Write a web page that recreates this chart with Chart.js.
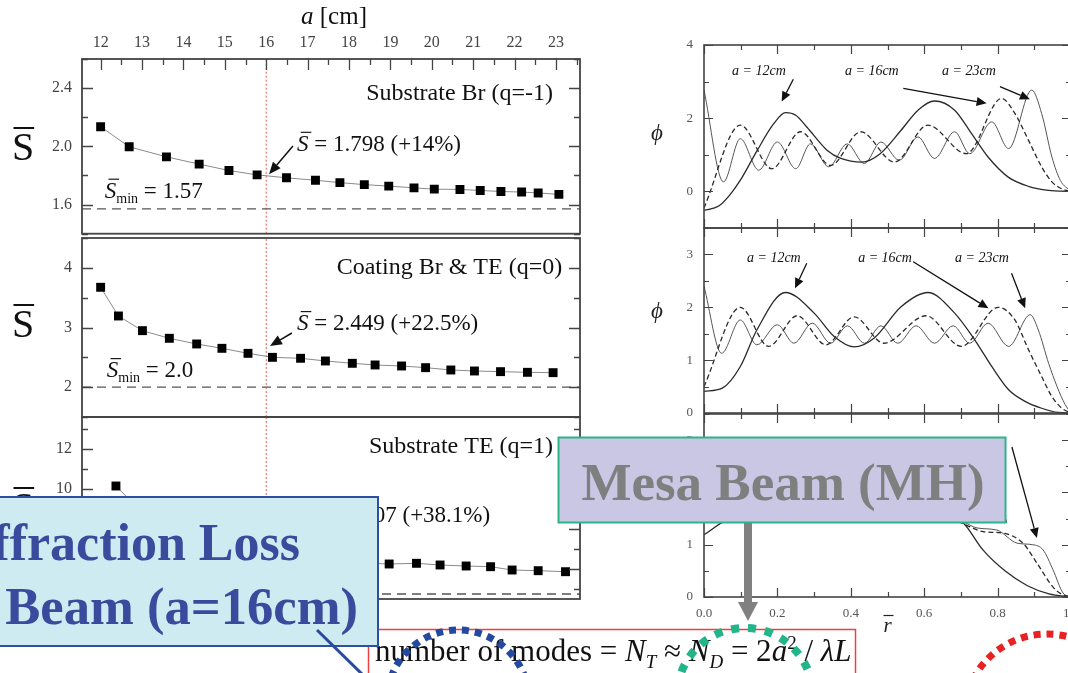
<!DOCTYPE html>
<html>
<head>
<meta charset="utf-8">
<title>Mesa beam: mean S and profiles</title>
<script src="https://cdn.jsdelivr.net/npm/chart.js@4.4.1/dist/chart.umd.min.js"></script>
<style>
  html, body { margin: 0; padding: 0; background: #fff; width: 1068px; height: 673px; overflow: hidden; position: relative; }
  canvas { position: absolute; }
  #overlay { position: absolute; left: 0; top: 0; }
</style>
</head>
<body>
<canvas id="p1"></canvas>
<canvas id="p2"></canvas>
<canvas id="p3"></canvas>
<canvas id="r1"></canvas>
<canvas id="r2"></canvas>
<canvas id="r3"></canvas>

<svg id="overlay" width="1068" height="673" viewBox="0 0 1068 673">
  <rect x="368.5" y="629.5" width="487" height="70" fill="#fff" stroke="#ee4040" stroke-width="1.5"/>
  <text x="375" y="661" font-family="Liberation Serif" font-size="31" fill="#111">number of modes = <tspan font-style="italic">N</tspan><tspan font-style="italic" font-size="19" dy="7">T</tspan><tspan dy="-7"> ≈ </tspan><tspan font-style="italic">N</tspan><tspan font-style="italic" font-size="19" dy="7">D</tspan><tspan dy="-7"> = 2</tspan><tspan font-style="italic">a</tspan><tspan font-size="19" dy="-12">2</tspan><tspan dy="12"> / </tspan><tspan font-style="italic">λL</tspan></text>

  <rect x="-10" y="497" width="388" height="149" fill="#cdebf0" stroke="#2f4fa0" stroke-width="2"/>
  <text x="300" y="560" text-anchor="end" font-family="Liberation Serif" font-weight="bold" font-size="52" fill="#3a4a9c">Diffraction Loss</text>
  <text x="358" y="624" text-anchor="end" font-family="Liberation Serif" font-weight="bold" font-size="52.6" fill="#3a4a9c">Mesa Beam (a=16cm)</text>
  <line x1="317" y1="630" x2="364" y2="676" stroke="#2a4a9e" stroke-width="3"/>

  <circle cx="458" cy="701" r="71" fill="none" stroke="#2349a0" stroke-width="7" stroke-dasharray="7 6"/>
  <circle cx="745" cy="696" r="68" fill="none" stroke="#22b58a" stroke-width="8" stroke-dasharray="8 9"/>
  <circle cx="1047" cy="717" r="83" fill="none" stroke="#e82222" stroke-width="7" stroke-dasharray="7 6"/>

  <rect x="558.5" y="437.5" width="447" height="85" fill="#c9c7e3" stroke="#2cb48b" stroke-width="2"/>
  <text x="783" y="500" text-anchor="middle" font-family="Liberation Serif" font-weight="bold" font-size="53" fill="#7f7f7f">Mesa Beam (MH)</text>
  <rect x="744" y="523" width="8" height="80" fill="#808080"/>
  <polygon points="738,602 758,602 748,621" fill="#808080"/>
</svg>

<script>
// left column: mean S-bar vs mirror radius a [cm]
const aBr   = [12.0, 12.69, 13.59, 14.38, 15.10, 15.78, 16.49, 17.19, 17.78, 18.37, 18.96, 19.57, 20.06, 20.68, 21.17, 21.67, 22.17, 22.57, 23.07];
const sBr   = [2.135, 1.997, 1.928, 1.878, 1.834, 1.804, 1.784, 1.767, 1.751, 1.737, 1.727, 1.715, 1.706, 1.704, 1.697, 1.690, 1.686, 1.680, 1.670];
const sMinBr = 1.57;

const aCoat = [12.0, 12.43, 13.01, 13.66, 14.32, 14.93, 15.56, 16.15, 16.83, 17.43, 18.08, 18.63, 19.27, 19.85, 20.46, 21.03, 21.66, 22.31, 22.93];
const sCoat = [3.674, 3.193, 2.947, 2.819, 2.724, 2.651, 2.567, 2.500, 2.484, 2.439, 2.400, 2.372, 2.355, 2.327, 2.288, 2.271, 2.260, 2.249, 2.243];
const sMinCoat = 2.0;

const aTE = [12.37, 12.97, 13.57, 14.17, 14.77, 15.37, 15.97, 16.57, 17.17, 17.76, 18.37, 18.97, 19.63, 20.20, 20.83, 21.42, 21.94, 22.57, 23.23];
const sTE = [10.15, 8.9, 8.0, 7.4, 7.0, 6.75, 6.55, 6.5, 6.45, 6.38, 6.3, 6.25, 6.285, 6.2, 6.15, 6.115, 5.95, 5.915, 5.865];
const sMinTE = 4.75;

const aChosen = 16;

// right column: phi(r) for a = 12, 16, 23 cm
const rTop12   = [0, 0.04, 0.07, 0.1, 0.145, 0.19, 0.222, 0.25, 0.28, 0.336, 0.373, 0.43, 0.48, 0.537, 0.583, 0.628, 0.683, 0.729, 0.774, 0.829, 0.884, 0.939, 1];
const phiTop12 = [-0.52, -0.4, -0.1, 0.32, 1.12, 1.85, 2.15, 2.08, 1.76, 1.12, 0.9, 0.8, 1.03, 1.67, 2.22, 2.47, 2.22, 1.58, 0.94, 0.39, 0.14, 0.03, 0];
const rTop16   = [0, 0.099, 0.185, 0.263, 0.345, 0.427, 0.519, 0.61, 0.715, 0.811, 0.847, 0.884, 0.92, 0.948, 0.975, 1];
const phiTop16 = [-0.45, 1.81, 0.62, 1.63, 0.71, 1.63, 0.8, 1.81, 1.03, 2.54, 2.13, 1.4, 0.67, 0.26, 0.07, 0];
const rTop23   = [0, 0.053, 0.099, 0.149, 0.2, 0.25, 0.29, 0.34, 0.39, 0.437, 0.482, 0.532, 0.583, 0.628, 0.683, 0.724, 0.784, 0.83, 0.893, 0.92, 0.948, 0.971, 1];
const phiTop23 = [2.77, 0.26, 1.44, 0.58, 1.35, 0.62, 1.3, 0.67, 1.3, 0.76, 1.35, 0.85, 1.49, 0.9, 1.63, 1.03, 1.9, 1.17, 2.77, 2.13, 0.94, 0.3, 0];

const rMid12   = [0, 0.05, 0.099, 0.144, 0.222, 0.3, 0.354, 0.409, 0.464, 0.537, 0.61, 0.683, 0.738, 0.784, 0.83, 0.875, 0.92, 0.966, 1];
const phiMid12 = [0.41, 0.47, 0.88, 1.57, 2.28, 1.89, 1.45, 1.25, 1.42, 2.01, 2.28, 1.89, 1.38, 0.88, 0.44, 0.22, 0.09, 0.01, 0];
const rMid16   = [0, 0.099, 0.176, 0.254, 0.332, 0.409, 0.49, 0.605, 0.701, 0.802, 0.847, 0.884, 0.92, 0.948, 0.975, 1];
const phiMid16 = [0.5, 2.0, 1.26, 1.84, 1.29, 1.82, 1.32, 1.84, 1.26, 2.0, 1.76, 1.2, 0.69, 0.31, 0.09, 0];
const rMid23   = [0, 0.048, 0.099, 0.144, 0.2, 0.245, 0.295, 0.345, 0.391, 0.437, 0.482, 0.528, 0.578, 0.628, 0.679, 0.724, 0.774, 0.83, 0.889, 0.911, 0.939, 0.962, 0.984, 1];
const phiMid23 = [2.4, 1.13, 1.76, 1.29, 1.67, 1.32, 1.7, 1.32, 1.65, 1.32, 1.65, 1.32, 1.65, 1.32, 1.65, 1.32, 1.7, 1.26, 1.86, 1.57, 0.94, 0.5, 0.16, 0];

const rBot12   = [0, 0.063, 0.2, 0.4, 0.55, 0.65, 0.706, 0.76, 0.82, 0.88, 0.94, 1];
const phiBot12 = [1.19, 1.48, 1.75, 1.8, 1.75, 1.6, 1.42, 0.9, 0.5, 0.22, 0.06, 0];
const rBot16   = [0, 0.15, 0.3, 0.45, 0.6, 0.69, 0.725, 0.76, 0.815, 0.869, 0.907, 0.951, 0.978, 1];
const phiBot16 = [1.65, 1.55, 1.6, 1.55, 1.6, 1.45, 1.34, 1.25, 1.22, 1.03, 0.65, 0.19, 0.04, 0];
const rBot23   = [0, 0.05, 0.1, 0.2, 0.3, 0.4, 0.5, 0.6, 0.7, 0.744, 0.798, 0.853, 0.896, 0.924, 0.951, 0.978, 1];
const phiBot23 = [1.9, 1.45, 1.65, 1.5, 1.6, 1.5, 1.6, 1.5, 1.45, 1.32, 1.28, 1.03, 1.0, 0.9, 0.52, 0.08, 0];

const SERIF = '"Liberation Serif", "Times New Roman", serif';
const LEFT_X = [11.55, 23.58];

function pts(xs, ys) { return xs.map((x, i) => ({ x: x, y: ys[i] })); }
function stepValues(min, max, step) {
  const out = [];
  for (let k = Math.ceil(min / step - 1e-6); k * step <= max + 1e-6; k++) out.push(Math.round(k * step * 1e6) / 1e6);
  return out;
}
function isMult(v, step) { const q = v / step; return Math.abs(q - Math.round(q)) < 1e-6; }

// frame with inward ticks on every side
function frameTicks(cfg) {
  return {
    id: 'frameTicks',
    afterDatasetsDraw(chart) {
      const ctx = chart.ctx, a = chart.chartArea;
      const xs = chart.scales.x, ys = chart.scales.y;
      ctx.save();
      ctx.strokeStyle = cfg.color;
      ctx.lineWidth = cfg.tickWidth;
      ctx.beginPath();
      stepValues(ys.min, ys.max, cfg.yMinor).forEach(v => {
        const p = Math.round(ys.getPixelForValue(v)) + 0.5;
        const len = isMult(v, cfg.yMajor) ? cfg.majorLen : cfg.minorLen;
        ctx.moveTo(a.left, p); ctx.lineTo(a.left + len, p);
        ctx.moveTo(a.right, p); ctx.lineTo(a.right - len, p);
      });
      if (cfg.xMinor) {
        stepValues(xs.min, xs.max, cfg.xMinor).forEach(v => {
          const p = Math.round(xs.getPixelForValue(v)) + 0.5;
          const len = isMult(v, cfg.xMajor) ? cfg.majorLen : cfg.minorLen;
          if (cfg.xTop) { ctx.moveTo(p, a.top); ctx.lineTo(p, a.top + len); }
          if (cfg.xBottom) { ctx.moveTo(p, a.bottom); ctx.lineTo(p, a.bottom - len); }
        });
      }
      ctx.stroke();
      ctx.lineWidth = cfg.frameWidth;
      ctx.strokeRect(a.left, a.top, a.right - a.left, a.bottom - a.top);
      ctx.restore();
    }
  };
}

function txt(ctx, s, x, y, font, align, color) {
  ctx.font = font; ctx.textAlign = align || 'left'; ctx.textBaseline = 'alphabetic';
  ctx.fillStyle = color || '#111'; ctx.fillText(s, x, y);
}

function arrow(ctx, x1, y1, x2, y2, hl, hw, lw) {
  const ang = Math.atan2(y2 - y1, x2 - x1);
  const bx = x2 - hl * Math.cos(ang), by = y2 - hl * Math.sin(ang);
  ctx.strokeStyle = '#111'; ctx.fillStyle = '#111'; ctx.lineWidth = lw;
  ctx.beginPath(); ctx.moveTo(x1, y1); ctx.lineTo(bx, by); ctx.stroke();
  ctx.beginPath(); ctx.moveTo(x2, y2);
  ctx.lineTo(bx + hw * Math.sin(ang), by - hw * Math.cos(ang));
  ctx.lineTo(bx - hw * Math.sin(ang), by + hw * Math.cos(ang));
  ctx.closePath(); ctx.fill();
}

// S with an overline, optional subscript, then the rest of the text
function sBar(ctx, x, y, size, sub, rest, align, italic) {
  const sFont = (italic ? 'italic ' : '') + size + 'px ' + SERIF;
  const rFont = size + 'px ' + SERIF;
  const bFont = Math.round(size * 0.62) + 'px ' + SERIF;
  ctx.font = sFont; const sw = ctx.measureText('S').width;
  ctx.font = bFont; const bw = sub ? ctx.measureText(sub).width : 0;
  ctx.font = rFont; const rw = rest ? ctx.measureText(rest).width : 0;
  const x0 = align === 'right' ? x - sw - bw - rw : (align === 'center' ? x - (sw + bw + rw) / 2 : x);
  txt(ctx, 'S', x0, y, sFont);
  const shift = italic ? size * 0.12 : 0;
  ctx.strokeStyle = '#111'; ctx.lineWidth = Math.max(1, size / 20);
  ctx.beginPath(); ctx.moveTo(x0 + shift + size * 0.04, y - size * 0.8); ctx.lineTo(x0 + shift + sw, y - size * 0.8); ctx.stroke();
  if (sub) txt(ctx, sub, x0 + sw, y + size * 0.22, bFont);
  if (rest) txt(ctx, rest, x0 + sw + bw, y, rFont);
}

function place(id, box) {
  const cv = document.getElementById(id);
  cv.width = box.w; cv.height = box.h;
  cv.style.left = box.x + 'px'; cv.style.top = box.y + 'px';
  cv.style.width = box.w + 'px'; cv.style.height = box.h + 'px';
  return cv;
}

function fixedTicks(step) {
  return s => { s.ticks = stepValues(s.min, s.max, step).map(v => ({ value: v })); };
}

function panel(id, box, area, sc, datasets, ticksCfg, notes) {
  const cv = place(id, box);
  const yW = area.l - box.x;
  const topAxis = sc.xPos === 'top', botAxis = sc.xPos === 'bottom';
  const xH = topAxis ? area.t - box.y : box.y + box.h - area.b;
  const pad = {
    left: 0,
    right: box.x + box.w - area.r,
    top: topAxis ? 0 : area.t - box.y,
    bottom: botAxis ? 0 : box.y + box.h - area.b
  };
  const xScale = {
    type: 'linear', position: sc.xPos || 'bottom', display: !!sc.xPos,
    min: sc.xMin, max: sc.xMax,
    grid: { display: false, drawTicks: false }, border: { display: false },
    afterBuildTicks: fixedTicks(sc.xStep),
    ticks: { autoSkip: false, maxRotation: 0, padding: sc.xPad || 0,
             color: sc.tickColor, font: { family: SERIF, size: sc.xFont || 16 }, callback: sc.xLabel }
  };
  if (sc.xPos) xScale.afterFit = s => { s.height = xH; s.paddingLeft = 0; s.paddingRight = 0; };
  return new Chart(cv, {
    type: 'scatter',
    data: { datasets: datasets },
    options: {
      responsive: false, animation: false, events: [],
      layout: { padding: pad },
      plugins: { legend: { display: false }, tooltip: { enabled: false } },
      scales: {
        x: xScale,
        y: {
          type: 'linear', position: 'left', min: sc.yMin, max: sc.yMax,
          grid: { display: false, drawTicks: false }, border: { display: false },
          afterBuildTicks: fixedTicks(sc.yStep),
          ticks: { autoSkip: false, padding: sc.yPad, color: sc.tickColor,
                   font: { family: SERIF, size: sc.yFont }, callback: sc.yLabel },
          afterFit: s => { s.width = yW; s.paddingTop = 0; s.paddingBottom = 0; }
        }
      }
    },
    plugins: [frameTicks(ticksCfg), { id: 'notes', afterDraw: chart => notes(chart) }]
  });
}

function markerSet(xs, ys) {
  return { data: pts(xs, ys), showLine: true, borderColor: '#8a8a8a', borderWidth: 1,
           pointStyle: 'rect', pointRadius: 6.3, pointBackgroundColor: '#000', pointBorderColor: '#000',
           pointBorderWidth: 0, tension: 0, order: 1 };
}
function minLine(v) {
  return { data: [{ x: LEFT_X[0], y: v }, { x: LEFT_X[1], y: v }], showLine: true, pointRadius: 0,
           borderColor: '#555', borderWidth: 1.3, borderDash: [9, 6], order: 2 };
}
function chosenLine(lo, hi) {
  return { data: [{ x: aChosen, y: lo }, { x: aChosen, y: hi }], showLine: true, pointRadius: 0,
           borderColor: '#ec5a52', borderWidth: 1, borderDash: [2, 2], order: 3 };
}
function curve(xs, ys, kind) {
  const st = { a12: ['#2a2a2a', 1.3, []], a16: ['#2a2a2a', 1.3, [5, 3]], a23: ['#555', 1.0, []] }[kind];
  return { data: pts(xs, ys), showLine: true, pointRadius: 0, borderColor: st[0], borderWidth: st[1],
           borderDash: st[2], cubicInterpolationMode: 'monotone' };
}

function P(chart, x, y) { return [chart.scales.x.getPixelForValue(x), chart.scales.y.getPixelForValue(y)]; }

// ---- left column ----
const leftTicks = { color: '#444', tickWidth: 1.3, frameWidth: 1.8, majorLen: 11, minorLen: 6 };
const leftSc = { xMin: LEFT_X[0], xMax: LEFT_X[1], xStep: 1, tickColor: '#444', yFont: 16, yPad: 10 };

panel('p1', { x: 0, y: 0, w: 600, h: 240 }, { l: 82, t: 59, r: 580, b: 238 },
  Object.assign({}, leftSc, { xPos: 'top', xPad: 7, xFont: 16, xLabel: v => isMult(v, 1) ? String(Math.round(v)) : '',
    yMin: 1.4, yMax: 2.6, yStep: 0.2, yLabel: v => isMult(v, 0.4) ? v.toFixed(1) : '' }),
  [markerSet(aBr, sBr), minLine(sMinBr), chosenLine(1.4, 2.6)],
  Object.assign({}, leftTicks, { yMinor: 0.2, yMajor: 0.4, xMinor: 0.5, xMajor: 1, xTop: true }),
  chart => {
    const ctx = chart.ctx;
    let p = P(chart, 22.93, 2.318); txt(ctx, 'Substrate Br (q=-1)', p[0], p[1], '24px ' + SERIF, 'right');
    p = P(chart, 16.745, 1.970); sBar(ctx, p[0], p[1], 23, '', ' = 1.798 (+14%)', 'left', true);
    let q = P(chart, 16.646, 2.003); p = P(chart, 16.068, 1.809); arrow(ctx, q[0], q[1], p[0], p[1], 12, 5, 1.5);
    p = P(chart, 12.10, 1.648); sBar(ctx, p[0], p[1], 23, 'min', ' = 1.57', 'left', true);
    sBar(ctx, 23, 160, 40, '', '', 'center', false);
    ctx.font = 'italic 25px ' + SERIF; const wa = ctx.measureText('a').width;
    ctx.font = '25px ' + SERIF; const wc = ctx.measureText(' [cm]').width;
    const x0 = 334 - (wa + wc) / 2;
    txt(ctx, 'a', x0, 24, 'italic 25px ' + SERIF);
    txt(ctx, ' [cm]', x0 + wa, 24, '25px ' + SERIF);
  });

panel('p2', { x: 0, y: 230, w: 600, h: 195 }, { l: 82, t: 238, r: 580, b: 417 },
  Object.assign({}, leftSc, { yMin: 1.5, yMax: 4.5, yStep: 0.5, yLabel: v => isMult(v, 1) ? String(Math.round(v)) : '' }),
  [markerSet(aCoat, sCoat), minLine(sMinCoat), chosenLine(1.5, 4.5)],
  Object.assign({}, leftTicks, { yMinor: 0.5, yMajor: 1 }),
  chart => {
    const ctx = chart.ctx;
    let p = P(chart, 23.15, 3.897); txt(ctx, 'Coating Br & TE (q=0)', p[0], p[1], '24px ' + SERIF, 'right');
    p = P(chart, 16.745, 2.958); sBar(ctx, p[0], p[1], 23, '', ' = 2.449 (+22.5%)', 'left', true);
    let q = P(chart, 16.62, 2.908); p = P(chart, 16.09, 2.69); arrow(ctx, q[0], q[1], p[0], p[1], 12, 5, 1.5);
    p = P(chart, 12.15, 2.17); sBar(ctx, p[0], p[1], 23, 'min', ' = 2.0', 'left', true);
    sBar(ctx, 23, 107, 40, '', '', 'center', false);
  });

panel('p3', { x: 0, y: 410, w: 600, h: 200 }, { l: 82, t: 417, r: 580, b: 599 },
  Object.assign({}, leftSc, { yMin: 4.5, yMax: 13.6, yStep: 1, yLabel: v => isMult(v, 2) ? String(Math.round(v)) : '' }),
  [markerSet(aTE, sTE), minLine(sMinTE), chosenLine(4.5, 13.6)],
  Object.assign({}, leftTicks, { yMinor: 1, yMajor: 2 }),
  chart => {
    const ctx = chart.ctx;
    let p = P(chart, 22.93, 11.8); txt(ctx, 'Substrate TE (q=1)', p[0], p[1], '24px ' + SERIF, 'right');
    p = P(chart, 21.41, 8.35); sBar(ctx, p[0], p[1], 23, '', ' = 6.507 (+38.1%)', 'right', true);
    let q = P(chart, 16.6, 8.6); p = P(chart, 16.05, 6.6); arrow(ctx, q[0], q[1], p[0], p[1], 12, 5, 1.5);
    p = P(chart, 12.15, 5.1); sBar(ctx, p[0], p[1], 23, 'min', ' = 4.75', 'left', true);
    sBar(ctx, 23, 110, 40, '', '', 'center', false);
  });

// ---- right column ----
const rightTicks = { color: '#444', tickWidth: 1.2, frameWidth: 1.6, majorLen: 9, minorLen: 5, xMinor: 0.1, xMajor: 0.2, xTop: true, xBottom: true };
const rightSc = { xMin: 0, xMax: 1, xStep: 0.2, tickColor: '#555', yFont: 13, yPad: 11 };
const noteFont = 'italic 14px ' + SERIF;

function phiLabel(ctx, y) { txt(ctx, 'ϕ', 27, y, 'italic 23px ' + SERIF, 'center', '#222'); }

panel('r1', { x: 630, y: 30, w: 470, h: 205 }, { l: 704, t: 45, r: 1071, b: 228 },
  Object.assign({}, rightSc, { yMin: -1, yMax: 4, yStep: 1, yLabel: v => isMult(v, 2) ? String(Math.round(v)) : '' }),
  [curve(rTop12, phiTop12, 'a12'), curve(rTop16, phiTop16, 'a16'), curve(rTop23, phiTop23, 'a23')],
  Object.assign({}, rightTicks, { yMinor: 1, yMajor: 2 }),
  chart => {
    const ctx = chart.ctx;
    let p = P(chart, 0.0763, 3.18); txt(ctx, 'a = 12cm', p[0], p[1], noteFont);
    p = P(chart, 0.384, 3.18); txt(ctx, 'a = 16cm', p[0], p[1], noteFont);
    p = P(chart, 0.6485, 3.18); txt(ctx, 'a = 23cm', p[0], p[1], noteFont);
    let q = P(chart, 0.2434, 3.063); p = P(chart, 0.2117, 2.453); arrow(ctx, q[0], q[1], p[0], p[1], 10, 4.5, 1.3);
    q = P(chart, 0.543, 2.817); p = P(chart, 0.770, 2.407); arrow(ctx, q[0], q[1], p[0], p[1], 10, 4.5, 1.3);
    q = P(chart, 0.8065, 2.861); p = P(chart, 0.888, 2.516); arrow(ctx, q[0], q[1], p[0], p[1], 10, 4.5, 1.3);
    phiLabel(ctx, 110);
  });

panel('r2', { x: 630, y: 220, w: 470, h: 200 }, { l: 704, t: 228, r: 1071, b: 413 },
  Object.assign({}, rightSc, { yMin: 0, yMax: 3.5, yStep: 0.5, yLabel: v => isMult(v, 1) ? String(Math.round(v)) : '' }),
  [curve(rMid12, phiMid12, 'a12'), curve(rMid16, phiMid16, 'a16'), curve(rMid23, phiMid23, 'a23')],
  Object.assign({}, rightTicks, { yMinor: 0.5, yMajor: 1 }),
  chart => {
    const ctx = chart.ctx;
    let p = P(chart, 0.117, 2.857); txt(ctx, 'a = 12cm', p[0], p[1], noteFont);
    p = P(chart, 0.42, 2.857); txt(ctx, 'a = 16cm', p[0], p[1], noteFont);
    p = P(chart, 0.684, 2.857); txt(ctx, 'a = 23cm', p[0], p[1], noteFont);
    let q = P(chart, 0.28, 2.832); p = P(chart, 0.248, 2.359); arrow(ctx, q[0], q[1], p[0], p[1], 10, 4.5, 1.3);
    q = P(chart, 0.570, 2.862); p = P(chart, 0.775, 1.98); arrow(ctx, q[0], q[1], p[0], p[1], 10, 4.5, 1.3);
    q = P(chart, 0.838, 2.643); p = P(chart, 0.875, 1.981); arrow(ctx, q[0], q[1], p[0], p[1], 10, 4.5, 1.3);
    phiLabel(ctx, 98);
  });

panel('r3', { x: 630, y: 405, w: 470, h: 235 }, { l: 704, t: 414, r: 1071, b: 597 },
  Object.assign({}, rightSc, { xPos: 'bottom', xPad: 9, xFont: 13, xLabel: v => v.toFixed(1),
    yMin: 0, yMax: 3.5, yStep: 0.5, yLabel: v => isMult(v, 1) ? String(Math.round(v)) : '' }),
  [curve(rBot12, phiBot12, 'a12'), curve(rBot16, phiBot16, 'a16'), curve(rBot23, phiBot23, 'a23')],
  Object.assign({}, rightTicks, { yMinor: 0.5, yMajor: 1 }),
  chart => {
    const ctx = chart.ctx;
    let q = P(chart, 0.70, 2.55), p = P(chart, 0.826, 1.416); arrow(ctx, q[0], q[1], p[0], p[1], 10, 4.5, 1.3);
    q = P(chart, 0.839, 2.869); p = P(chart, 0.907, 1.129); arrow(ctx, q[0], q[1], p[0], p[1], 10, 4.5, 1.3);
    phiLabel(ctx, 95);
    const xr = chart.scales.x.getPixelForValue(0.5);
    txt(ctx, 'r', xr, 227, 'italic 21px ' + SERIF, 'center', '#222');
    ctx.strokeStyle = '#222'; ctx.lineWidth = 1.2;
    ctx.beginPath(); ctx.moveTo(xr - 4, 210.5); ctx.lineTo(xr + 6, 210.5); ctx.stroke();
  });
</script>
</body>
</html>
